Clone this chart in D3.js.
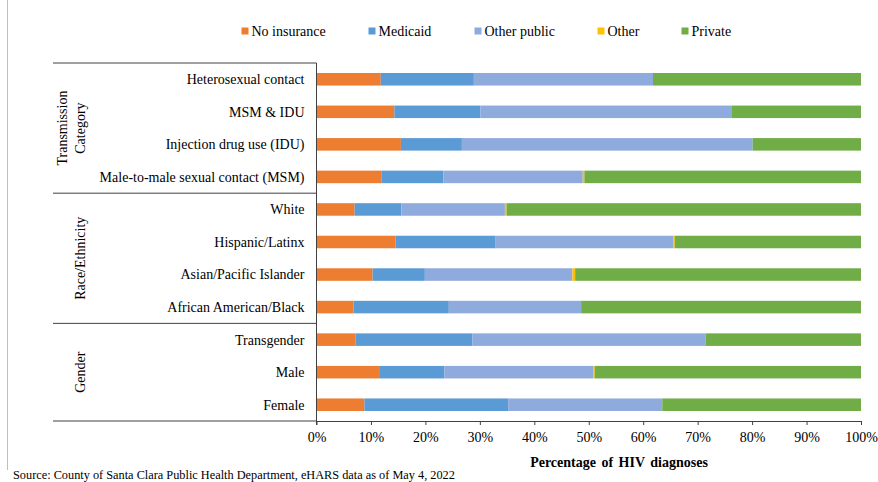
<!DOCTYPE html>
<html>
<head>
<meta charset="utf-8">
<script src="https://cdn.jsdelivr.net/npm/d3@7"></script>
<style>
  html, body { margin: 0; padding: 0; background: #fff; }
  svg { display: block; font-family: "Liberation Serif", "Times New Roman", serif; }
</style>
</head>
<body>
<svg id="chart" width="878" height="482"></svg>
<script>
// ---- Data ----
const categories = [
  "Heterosexual contact", "MSM & IDU", "Injection drug use (IDU)", "Male-to-male sexual contact (MSM)",
  "White", "Hispanic/Latinx", "Asian/Pacific Islander", "African American/Black",
  "Transgender", "Male", "Female"
];
const groups = [
  { name: ["Transmission", "Category"], count: 4 },
  { name: ["Race/Ethnicity"], count: 4 },
  { name: ["Gender"], count: 3 }
];
const seriesNames = ["No insurance", "Medicaid", "Other public", "Other", "Private"];
const seriesColors = ["#ED7D31", "#5B9BD5", "#8FAADC", "#FFC000", "#70AD47"];

const noInsurance = [11.8, 14.3, 15.5, 11.9, 7.0, 14.5, 10.3, 6.8, 7.2, 11.5, 8.8];
const medicaid    = [17.1, 15.8, 11.2, 11.4, 8.6, 18.3, 9.6, 17.5, 21.4, 12.0, 26.4];
const otherPublic = [32.9, 46.2, 53.4, 25.6, 19.0, 32.7, 27.1, 24.3, 42.9, 27.3, 28.3];
const other       = [0.0, 0.0, 0.0, 0.3, 0.3, 0.3, 0.5, 0.0, 0.0, 0.3, 0.0];
const privateIns  = [38.2, 23.7, 19.9, 50.8, 65.1, 34.2, 52.5, 51.4, 28.5, 48.9, 36.5];

const xTicks = [0, 10, 20, 30, 40, 50, 60, 70, 80, 90, 100];
const xTitle = "Percentage of HIV diagnoses";
const source = "Source: County of Santa Clara Public Health Department, eHARS data as of May 4, 2022";

// ---- Build table ----
const seriesVals = [noInsurance, medicaid, otherPublic, other, privateIns];
const table = categories.map((c, i) => {
  const row = { category: c };
  seriesNames.forEach((s, j) => row[s] = seriesVals[j][i]);
  return row;
});

// ---- Layout ----
const svg = d3.select("#chart");
const plotLeft = 316.5, plotRight = 861, plotTop = 63, plotBottom = 421;
const labelLeft = 53;
const textColor = "#000";
const lineColor = "#404040";
const fs = "14px";

const x = d3.scaleLinear().domain([0, 100]).range([plotLeft, plotRight]);
const y = d3.scaleBand().domain(categories).range([plotTop, plotBottom])
  .paddingInner(0.615).paddingOuter(0.3075);
const color = d3.scaleOrdinal().domain(seriesNames).range(seriesColors);

// page border line at left
svg.append("line").attr("x1", 7.5).attr("x2", 7.5).attr("y1", 0).attr("y2", 470)
  .attr("stroke", "#bfbfbf").attr("stroke-width", 1);

// stacked bars
const stack = d3.stack().keys(seriesNames)(table);
svg.append("g").selectAll("g").data(stack).join("g")
  .attr("fill", d => color(d.key))
  .selectAll("rect").data(d => d).join("rect")
  .attr("x", d => x(d[0]))
  .attr("y", d => y(d.data.category))
  .attr("width", d => Math.max(0, x(d[1]) - x(d[0])))
  .attr("height", y.bandwidth());

// x axis
const xAxis = d3.axisBottom(x).tickValues(xTicks).tickFormat(d => d + "%").tickSize(4).tickSizeOuter(0);
const gx = svg.append("g").attr("transform", `translate(0,${plotBottom})`).call(xAxis);
gx.select(".domain").attr("stroke", lineColor);
gx.selectAll(".tick line").attr("stroke", lineColor);
gx.selectAll("text").attr("font-size", fs).attr("fill", textColor)
  .attr("font-family", "Liberation Serif, serif").attr("dy", "1.0em");

// y axis line (vertical) with a tick below
svg.append("line").attr("x1", plotLeft).attr("x2", plotLeft).attr("y1", plotTop).attr("y2", plotBottom + 4)
  .attr("stroke", lineColor);

// category labels
svg.append("g").selectAll("text").data(categories).join("text")
  .attr("x", 304.5)
  .attr("y", d => y(d) + y.bandwidth() / 2)
  .attr("dy", "0.35em")
  .attr("text-anchor", "end")
  .attr("font-size", fs)
  .attr("fill", textColor)
  .text(d => d);

// group separators and labels
let idx = 0;
const sepYs = [plotTop];
groups.forEach(g => { idx += g.count; sepYs.push(idx === categories.length ? plotBottom : y(categories[idx]) - y.step() * y.paddingInner()/2); });
svg.append("g").selectAll("line").data(sepYs).join("line")
  .attr("x1", labelLeft).attr("x2", plotLeft)
  .attr("y1", d => d).attr("y2", d => d)
  .attr("stroke", lineColor);

groups.forEach((g, gi) => {
  const cy = (sepYs[gi] + sepYs[gi + 1]) / 2;
  const lines = g.name;
  const lineH = 18;
  const t = svg.append("text")
    .attr("transform", `translate(${80 - (lines.length - 1) * lineH},${cy}) rotate(-90)`)
    .attr("text-anchor", "middle")
    .attr("font-size", fs)
    .attr("fill", textColor);
  lines.forEach((l, li) => {
    t.append("tspan").attr("x", 0).attr("y", li * lineH).attr("dy", "0.35em").text(l);
  });
});

// legend
const legendX = [241.5, 368.5, 474.5, 597.5, 681.5];
const legend = svg.append("g");
seriesNames.forEach((s, i) => {
  legend.append("rect").attr("x", legendX[i]).attr("y", 27.5).attr("width", 7).attr("height", 7)
    .attr("fill", color(s));
  legend.append("text").attr("x", legendX[i] + 10).attr("y", 31).attr("dy", "0.35em")
    .attr("font-size", fs).attr("fill", textColor).text(s);
});

// axis title
svg.append("text").attr("x", 619).attr("y", 462).attr("dy", "0.35em")
  .attr("text-anchor", "middle").attr("font-size", fs).attr("font-weight", "bold")
  .attr("fill", textColor).attr("word-spacing", "2px").text(xTitle);

// source
svg.append("text").attr("x", 13).attr("y", 478.5)
  .attr("font-size", "12.3px").attr("fill", textColor).text(source);
</script>
</body>
</html>
